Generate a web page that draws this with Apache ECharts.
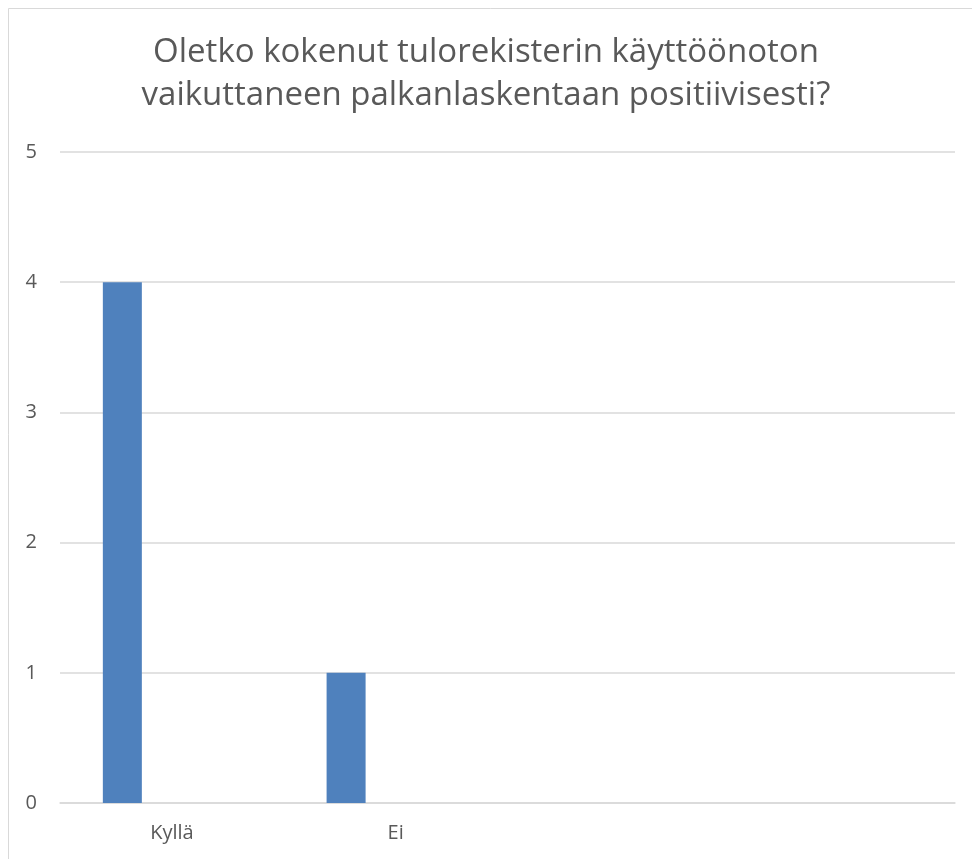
<!DOCTYPE html>
<html>
<head>
<meta charset="utf-8">
<script src="https://cdn.jsdelivr.net/npm/echarts@6/dist/echarts.min.js"></script>
<style>
html,body{margin:0;padding:0;background:#fff;}
#c{width:972px;height:859px;}
</style>
</head>
<body>
<div id="c"></div>
<script>
const titleLines = ["Oletko kokenut tulorekisterin käyttöönoton", "vaikuttaneen palkanlaskentaan positiivisesti?"];
const categories = ["Kyllä", "Ei", "", ""];
const seriesNames = ["Sarja1", "Sarja2", "Sarja3"];
const series1 = [4, 1, null, null];
const series2 = [null, null, null, null];
const series3 = [null, null, null, null];
const yTicks = [0, 1, 2, 3, 4, 5];

const FONT = '"Open Sans", sans-serif';
const chart = echarts.init(document.getElementById('c'), null, {renderer: 'canvas'});
const seriesData = [series1, series2, series3];
chart.setOption({
  animation: false,
  backgroundColor: '#ffffff',
  graphic: [{
    type: 'rect',
    shape: {x: 8.5, y: 8.5, width: 1000, height: 1000},
    style: {fill: 'none', stroke: '#d9d9d9', lineWidth: 1},
    silent: true
  }],
  title: {
    text: titleLines.join('\n'),
    left: 'center',
    top: 31,
    padding: 0,
    textStyle: {fontFamily: FONT, fontSize: 33, fontWeight: 'normal', color: '#595959', lineHeight: 43}
  },
  grid: {left: 60, right: 17, top: 152, bottom: 56, containLabel: false},
  xAxis: {
    type: 'category',
    data: categories,
    axisLine: {lineStyle: {color: '#d9d9d9', width: 1.5}},
    axisTick: {show: false},
    axisLabel: {fontFamily: FONT, fontSize: 20, color: '#595959', margin: 20}
  },
  yAxis: {
    type: 'value',
    min: yTicks[0],
    max: yTicks[yTicks.length - 1],
    interval: 1,
    axisLine: {show: false},
    axisTick: {show: false},
    splitLine: {lineStyle: {color: '#d9d9d9', width: 1.5}},
    axisLabel: {fontFamily: FONT, fontSize: 20, color: '#595959', margin: 23}
  },
  series: seriesNames.map((n, i) => ({
    name: n,
    type: 'bar',
    data: seriesData[i],
    barWidth: 39,
    barGap: '27%',
    itemStyle: {color: '#4f81bd'}
  }))
});
</script>
</body>
</html>
